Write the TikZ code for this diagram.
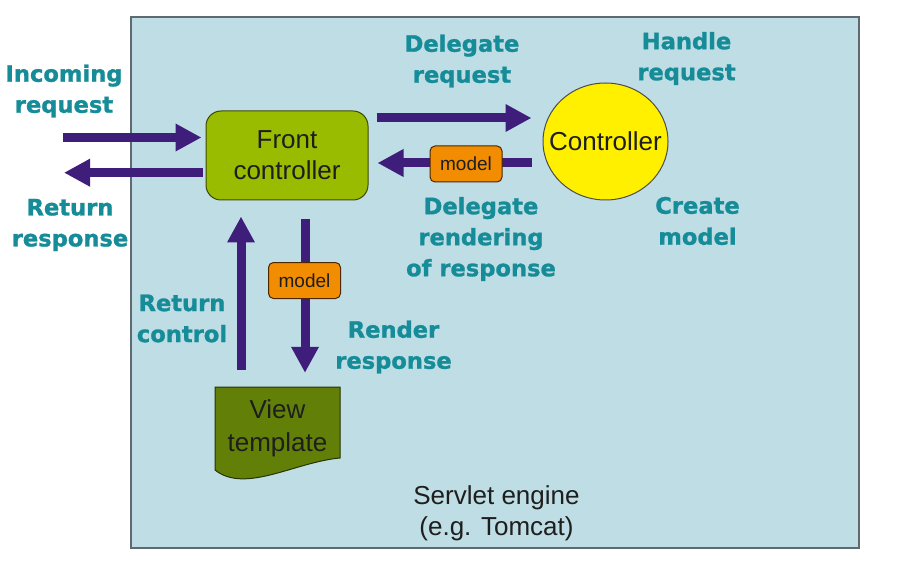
\documentclass[tikz,border=0pt]{standalone}
\usepackage{fontspec}
\setmainfont{Liberation Sans}
\newfontfamily\labfont{DejaVu Sans Bold}[FakeBold=1.2]
\usetikzlibrary{arrows.meta,shapes.geometric}
\definecolor{bgblue}{RGB}{190,221,228}
\definecolor{frameg}{RGB}{95,105,112}
\definecolor{arrowp}{RGB}{62,30,122}
\definecolor{teal}{RGB}{22,140,152}
\definecolor{fcgreen}{RGB}{153,187,0}
\definecolor{ctyellow}{RGB}{255,240,0}
\definecolor{vtgreen}{RGB}{98,128,8}
\definecolor{morange}{RGB}{242,140,0}
\definecolor{txtdark}{RGB}{30,30,30}
\tikzset{
  bigarrow/.style={draw=arrowp, line width=9pt, -{Triangle[length=26pt,width=26pt]}},
  lbl/.style={text=teal, align=center, font=\labfont\fontsize{22.6}{31}\selectfont, inner sep=0pt},
  boxtext/.style={text=txtdark, align=center, font=\fontsize{26}{31}\selectfont},
  modelbox/.style={draw=black!70!orange, line width=1pt, fill=morange, rounded corners=5pt, font=\fontsize{19}{22}\selectfont, text=txtdark, minimum width=72pt, minimum height=36pt, inner sep=0pt}
}
\begin{document}
\begin{tikzpicture}[x=1pt,y=-1pt]
\useasboundingbox (0,0) rectangle (912,569);
\fill[white] (0,0) rectangle (912,569);
% container
\draw[fill=bgblue, draw=frameg, line width=2pt] (131,17) rectangle (859,548);
\node[text=txtdark, align=center, font=\fontsize{26}{31}\selectfont, inner sep=0pt] (engine) at (496.5,513) {Servlet engine\\(e.g. Tomcat)};
% nodes
\node[boxtext, draw=black!60!fcgreen, line width=1pt, fill=fcgreen, rounded corners=15pt, minimum width=162pt, minimum height=89pt, inner sep=0pt] (fc) at (287,155.5) {Front\\controller};
\node[ellipse, draw=black!70, line width=1pt, fill=ctyellow, minimum width=125pt, minimum height=117pt, inner sep=0pt] (ctrl) at (605.5,141.5) {};
\node[text=txtdark, font=\fontsize{26}{31}\selectfont, inner sep=0pt] (ctrltext) at (ctrl.center) {Controller};
\draw[fill=vtgreen, draw=black!60!vtgreen, line width=1pt] (215,387) -- (340,387) -- (340,458) .. controls (295,462) and (245,494) .. (215,470) -- cycle;
\node[boxtext, font=\fontsize{26}{33}\selectfont, minimum width=125pt, minimum height=83pt, inner sep=0pt] (vt) at (277.5,428.5) {View\\template};
% arrows
\coordinate (inS) at (63,137.5);
\coordinate (outE) at (64,172.7);
\coordinate (dr) at (0,118);
\coordinate (rr) at (0,163);
\coordinate (dn) at (305,0);
\coordinate (up) at (241,0);
\draw[bigarrow, shorten >=4pt] (inS) -- (fc.west |- inS);
\draw[bigarrow, shorten <=3pt] (fc.west |- outE) -- (outE);
\draw[bigarrow, shorten <=8pt, shorten >=11pt] (fc.east |- dr) -- (ctrl.west |- dr);
\draw[bigarrow, shorten <=11pt, shorten >=9pt] (ctrl.west |- rr) -- (fc.east |- rr);
\draw[bigarrow, shorten <=19pt, shorten >=14pt] (fc.south -| dn) -- (vt.north -| dn);
\draw[bigarrow, shorten <=17pt, shorten >=16pt] (vt.north -| up) -- (fc.south -| up);
% model boxes
\node[modelbox] (m1) at (466,164) {model};
\node[modelbox] (m2) at (304.5,280.5) {model};
% labels
\node[lbl] (linc) at (64,91) {Incoming\\request};
\node[lbl] (lret) at (70,225) {Return\\response};
\node[lbl] (ldel) at (462,61) {Delegate\\request};
\node[lbl] (lhan) at (686.5,58.5) {Handle\\request};
\node[lbl] (lren) at (481,239) {Delegate\\rendering\\of response};
\node[lbl] (lcre) at (697.5,221) {Create\\model};
\node[lbl] (lrc) at (182,318.5) {Return\\control};
\node[lbl] (lrr) at (393.5,347) {Render\\response};
\end{tikzpicture}
\end{document}
